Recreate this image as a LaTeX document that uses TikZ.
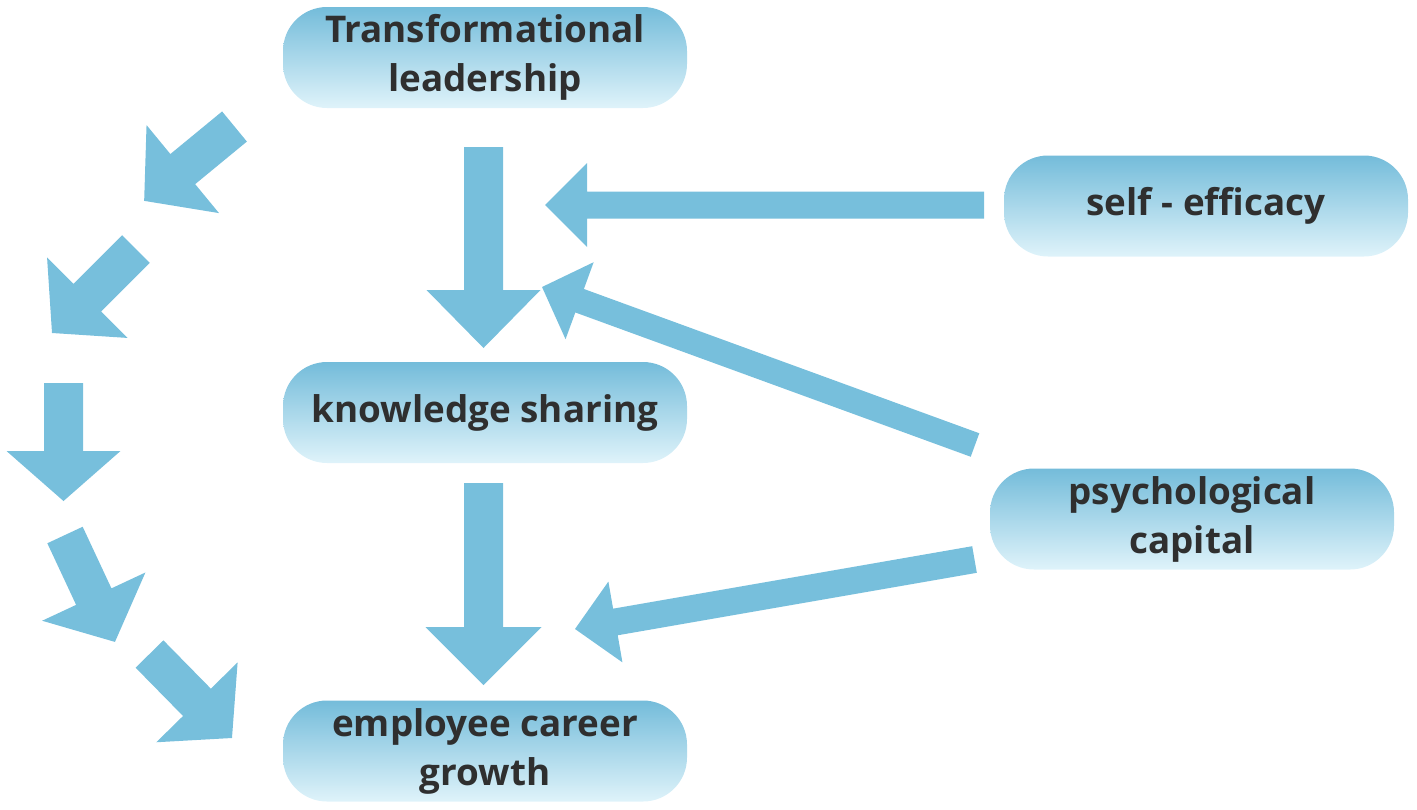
\documentclass[tikz,border=0pt]{standalone}
\usepackage{fontspec}
\setmainfont{Open Sans}
\usetikzlibrary{calc}
\definecolor{arrowblue}{HTML}{77BFDC}
\definecolor{boxtop}{HTML}{74BCDA}
\definecolor{boxbottom}{HTML}{DFF3FA}
\definecolor{boxtext}{HTML}{2F2F2F}
\tikzset{
  box/.style={rounded corners=22pt, minimum width=202pt, minimum height=50.5pt,
    top color=boxtop, bottom color=boxbottom, draw=none, align=center,
    text=boxtext, font=\fontsize{18.4}{24.5}\selectfont\bfseries, inner sep=0pt},
  arrowfill/.style={fill=arrowblue, draw=none}
}
% #1 tail, #2 tip, #3 shaft width (px), #4 head width (px), #5 head length (px)
\newcommand\blockarr[5]{%
  \path let \p1=($(#2)-(#1)$) in \pgfextra{%
    \pgfmathsetmacro\baangtmp{atan2(\y1,\x1)}%
    \pgfmathsetmacro\balentmp{veclen(\x1,\y1)}%
    \xdef\baang{\baangtmp}\xdef\balen{\balentmp}};
  \fill[arrowfill, shift={(#1)}, rotate=\baang]
    (0pt,{-#3*0.25pt}) -- ({\balen pt-#5*0.5pt},{-#3*0.25pt})
    -- ({\balen pt-#5*0.5pt},{-#4*0.25pt}) -- (\balen pt,0pt)
    -- ({\balen pt-#5*0.5pt},{#4*0.25pt}) -- ({\balen pt-#5*0.5pt},{#3*0.25pt})
    -- (0pt,{#3*0.25pt}) -- cycle;
}
\begin{document}
\begin{tikzpicture}[x=0.5pt,y=-0.5pt]
\useasboundingbox (0,0) rectangle (1417,809);
% nodes
\node[box] (tl) at (485,57.5) {Transformational\\leadership};
\node[box] (se) at (1206,206) {self - efficacy};
\node[box] (ks) at (485,412.5) {knowledge sharing};
\node[box] (pc) at (1192,519) {psychological\\capital};
\node[box] (ecg) at (485,751) {employee career\\growth};
% connector end points
\coordinate (tlks1) at (483.5,147);  \coordinate (tlks2) at (483.5,348);
\coordinate (ksecg1) at (483.5,483); \coordinate (ksecg2) at (483.5,685);
\coordinate (seks1) at (984,205);    \coordinate (seks2) at (545,205);
\coordinate (pcks1) at (975,445);    \coordinate (pcks2) at (542,287);
\coordinate (pcecg1) at (974.5,559.5); \coordinate (pcecg2) at (575,629);
\coordinate (la1) at (234.5,126.5); \coordinate (la2) at (144,201);
\coordinate (lb1) at (136,249);     \coordinate (lb2) at (52,333);
\coordinate (lc1) at (63.5,383);    \coordinate (lc2) at (63.5,501);
\coordinate (ld1) at (65,535);      \coordinate (ld2) at (115,642);
\coordinate (le1) at (149.5,654);   \coordinate (le2) at (232,738);
% arrows
\blockarr{tlks1}{tlks2}{39}{114}{58}
\blockarr{ksecg1}{ksecg2}{39}{116}{58}
\blockarr{seks1}{seks2}{27}{84}{42}
\blockarr{pcks1}{pcks2}{25}{82}{40}
\blockarr{pcecg1}{pcecg2}{27}{82}{41}
\blockarr{la1}{la2}{39}{114}{50}
\blockarr{lb1}{lb2}{39}{114}{50}
\blockarr{lc1}{lc2}{39}{114}{50}
\blockarr{ld1}{ld2}{39}{114}{50}
\blockarr{le1}{le2}{39}{114}{50}
\end{tikzpicture}
\end{document}
